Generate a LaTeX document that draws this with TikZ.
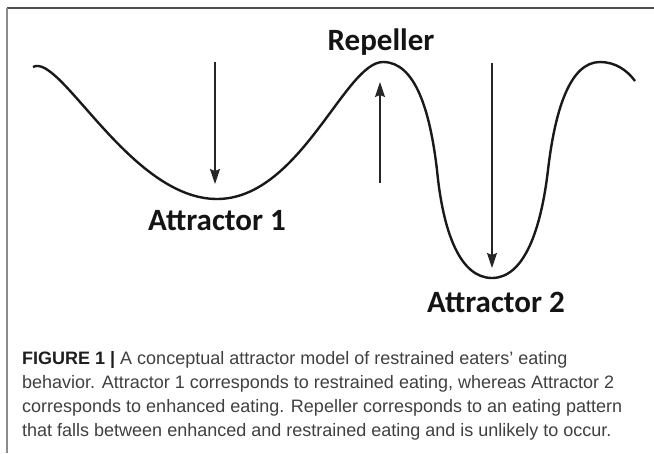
\documentclass[tikz,border=0pt]{standalone}
\usepackage{fontspec}
\setmainfont{Liberation Sans}
\newfontfamily\labfont{Carlito}
\usetikzlibrary{arrows.meta}
\definecolor{captxt}{HTML}{404040}
\tikzset{
  curve/.style={line width=2.4pt, black!90},
  flow/.style={line width=1.3pt, black!85, -{Stealth[length=15pt,width=10pt,inset=2pt]}},
  lab/.style={font=\labfont\bfseries\fontsize{31}{36}\selectfont, inner sep=0pt, anchor=base, text=black!92},
  capline/.style={font=\fontsize{18}{23}\selectfont, inner sep=0pt, anchor=base west, text=captxt},
}
\begin{document}
\begin{tikzpicture}[x=1pt,y=-1pt]
\useasboundingbox (0,0) rectangle (654,453);
\fill[white] (0,0) rectangle (654,453);
% frame
\draw[line width=1.8pt, black!70] (7,8) -- (654,8);
\draw[line width=1.6pt, black!45] (7,8) -- (7,453);
% landscape
\draw[curve] (33,67) .. controls (60,52) and (130,199) .. (217,199)
  .. controls (300,199) and (345,62) .. (383,62)
  .. controls (415,62) and (430,110) .. (437,170)
  .. controls (443,232) and (460,278) .. (492,278)
  .. controls (524,278) and (541,230) .. (548,170)
  .. controls (555,110) and (570,62) .. (600,62)
  .. controls (615,62) and (627,70) .. (635,81);
% arrows
\coordinate (a1s) at (215,62);
\coordinate (a1e) at (215,184);
\coordinate (a2s) at (380,183);
\coordinate (a2e) at (380,82);
\coordinate (a3s) at (492,63);
\coordinate (a3e) at (492,268);
\draw[flow] (a1s) -- (a1e);
\draw[flow] (a2s) -- (a2e);
\draw[flow] (a3s) -- (a3e);
% labels
\node[lab] (rep) at (381,50) {Repeller};
\node[lab] (att1) at (217,230) {Attractor 1};
\node[lab] (att2) at (496,312) {Attractor 2};
% caption
\node[capline] (c1) at (22,364) {\textbf{\color{black!88}FIGURE 1 |} A conceptual attractor model of restrained eaters’ eating};
\node[capline] (c2) at (22,388) {behavior. Attractor 1 corresponds to restrained eating, whereas Attractor 2};
\node[capline] (c3) at (22,412) {corresponds to enhanced eating. Repeller corresponds to an eating pattern};
\node[capline] (c4) at (22,436) {that falls between enhanced and restrained eating and is unlikely to occur.};
\end{tikzpicture}
\end{document}
